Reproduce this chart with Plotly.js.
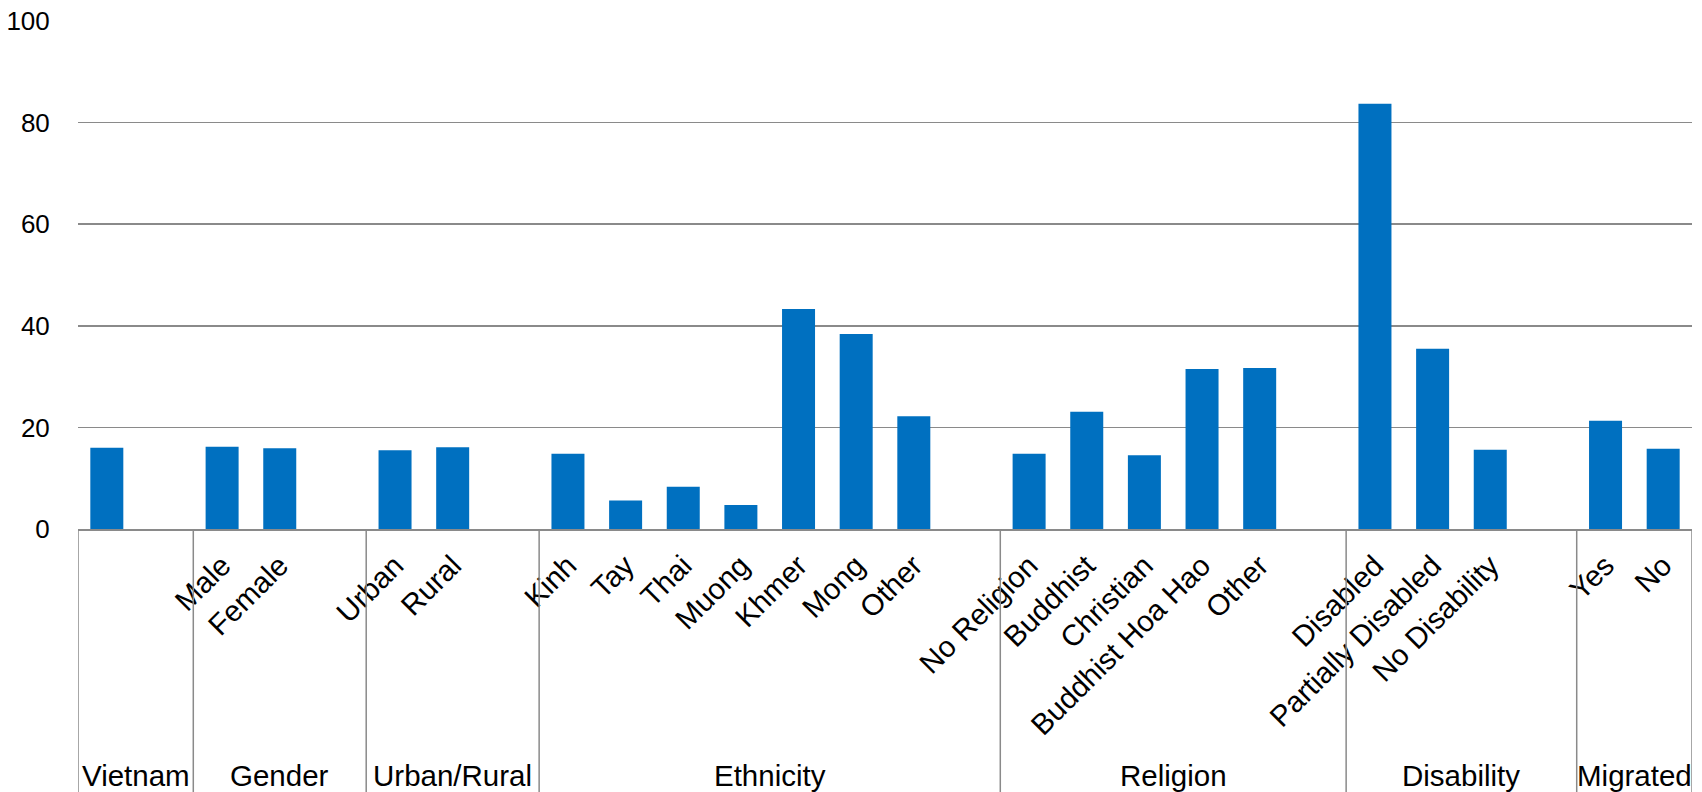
<!DOCTYPE html>
<html>
<head>
<meta charset="utf-8">
<script src="https://cdn.plot.ly/plotly-3.0.1.min.js"></script>
<style>
  html, body { margin: 0; padding: 0; background: #ffffff; }
  #chart { width: 1702px; height: 792px; }
</style>
</head>
<body>
<div id="chart"></div>
<script>
// Group names shown under the category labels
const groupNames = ['Vietnam', 'Gender', 'Urban/Rural', 'Ethnicity', 'Religion', 'Disability', 'Migrated'];

// Categories and values, one pair of arrays per group
const vietnamLabels = [''];
const vietnamValues = [16.0];

const genderLabels = ['Male', 'Female'];
const genderValues = [16.2, 15.9];

const areaLabels = ['Urban', 'Rural'];
const areaValues = [15.5, 16.1];

const ethnicityLabels = ['Kinh', 'Tay', 'Thai', 'Muong', 'Khmer', 'Mong', 'Other'];
const ethnicityValues = [14.8, 5.6, 8.3, 4.7, 43.3, 38.4, 22.2];

const religionLabels = ['No Religion', 'Buddhist', 'Christian', 'Buddhist Hoa Hao', 'Other'];
const religionValues = [14.8, 23.1, 14.5, 31.5, 31.7];

const disabilityLabels = ['Disabled', 'Partially Disabled', 'No Disability'];
const disabilityValues = [83.7, 35.5, 15.6];

const migratedLabels = ['Yes', 'No'];
const migratedValues = [21.3, 15.8];

// Y axis ticks
const yTickValues = [0, 20, 40, 60, 80, 100];

const groupLabels = [vietnamLabels, genderLabels, areaLabels, ethnicityLabels, religionLabels, disabilityLabels, migratedLabels];
const groupValues = [vietnamValues, genderValues, areaValues, ethnicityValues, religionValues, disabilityValues, migratedValues];

// Lay the categories out on slot positions, leaving one empty slot between groups
const xs = [], ys = [], tickText = [];
const groupSpans = [];
let slot = 0;
groupLabels.forEach((labels, g) => {
  const start = slot;
  labels.forEach((lab, i) => {
    xs.push(slot);
    ys.push(groupValues[g][i]);
    tickText.push(lab);
    slot++;
  });
  if (g < groupLabels.length - 1) slot++;   // blank spacer slot
  groupSpans.push([start - 0.5, slot - 0.5]);
});
const slotCount = slot;

const FONT = 'Liberation Sans, Arial, sans-serif';
const GRID = '#8a8a8a';

// Separator lines between groups, running down through the label area
const shapes = [];
const edges = [groupSpans[0][0]].concat(groupSpans.map(s => s[1]));
edges.forEach(x => {
  shapes.push({
    type: 'line', xref: 'x', yref: 'paper',
    x0: x, x1: x, y0: 0, y1: -0.55,
    line: { color: GRID, width: 1.5 }
  });
});

// Group titles centred under each span
const annotations = groupSpans.map((s, g) => ({
  text: groupNames[g],
  xref: 'x', yref: 'paper',
  x: (s[0] + s[1]) / 2, y: -0.485,
  xanchor: 'center', yanchor: 'middle',
  showarrow: false,
  font: { family: FONT, size: 29.5, color: '#000000' }
}));

const trace = {
  type: 'bar',
  x: xs,
  y: ys,
  marker: { color: '#0070C0', line: { width: 0 } },
  hoverinfo: 'x+y'
};

const layout = {
  width: 1702,
  height: 792,
  margin: { l: 78, r: 10, t: 21, b: 263 },
  paper_bgcolor: '#ffffff',
  plot_bgcolor: '#ffffff',
  showlegend: false,
  bargap: 0.4275,
  font: { family: FONT, color: '#000000' },
  xaxis: {
    range: [-0.5, slotCount - 0.5],
    tickmode: 'array',
    tickvals: xs,
    ticktext: tickText,
    tickangle: -45,
    tickfont: { family: FONT, size: 29.5, color: '#000000' },
    ticks: 'outside',
    ticklen: 6,
    tickcolor: 'rgba(0,0,0,0)',
    showgrid: false,
    zeroline: false,
    showline: true,
    linecolor: GRID,
    linewidth: 1.5,
    fixedrange: true
  },
  yaxis: {
    range: [0, 100],
    tickmode: 'array',
    tickvals: yTickValues,
    ticktext: yTickValues.map(String),
    tickfont: { family: FONT, size: 26, color: '#000000' },
    ticks: 'outside',
    ticklen: 22,
    tickcolor: 'rgba(0,0,0,0)',
    showgrid: true,
    gridcolor: GRID,
    gridwidth: 1.5,
    zeroline: false,
    showline: false,
    fixedrange: true
  },
  shapes: shapes,
  annotations: annotations
};

Plotly.newPlot('chart', [trace], layout, { displayModeBar: false, staticPlot: true });
</script>
</body>
</html>
